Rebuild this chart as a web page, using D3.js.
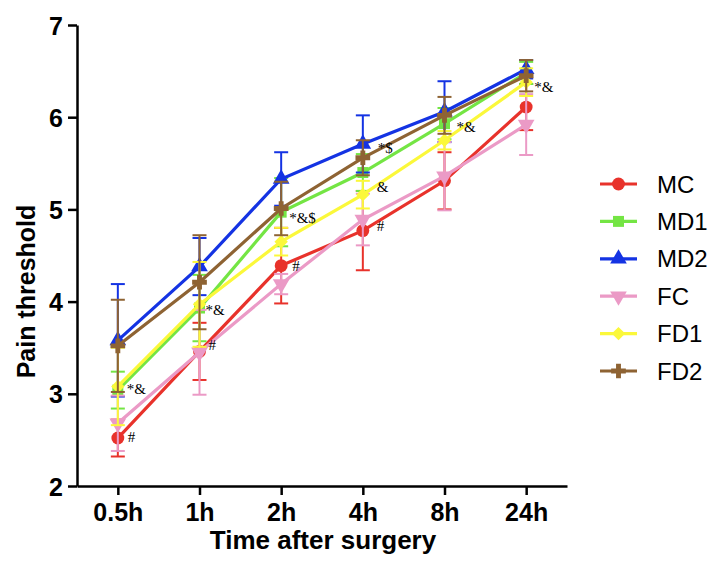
<!DOCTYPE html>
<html lang="en">
<head>
<meta charset="UTF-8">
<title>Pain threshold</title>
<script src="https://d3js.org/d3.v7.min.js"></script>
<style>
  body { margin: 0; background: #fff; }
  svg { display: block; }
</style>
</head>
<body>
<script>
// data
var times = ["0.5h", "1h", "2h", "4h", "8h", "24h"];
var yTicks = [2, 3, 4, 5, 6, 7];

var groups = ["MC", "MD1", "MD2", "FC", "FD1", "FD2"];
var colors = ["#e8322b", "#74e544", "#1433e3", "#eb9ac6", "#fbf83a", "#8e6333"];

var mc   = [2.52, 3.46, 4.39, 4.77, 5.31, 6.11];
var md1  = [3.04, 3.93, 4.97, 5.40, 5.93, 6.48];
var md2  = [3.58, 4.38, 5.33, 5.71, 6.06, 6.52];
var fc   = [2.68, 3.45, 4.19, 4.89, 5.36, 5.92];
var fd1  = [3.08, 3.97, 4.65, 5.16, 5.75, 6.38];
var fd2  = [3.52, 4.21, 5.01, 5.56, 6.02, 6.45];

var mcSd  = [0.20, 0.31, 0.41, 0.43, 0.31, 0.25];
var md1Sd = [0.20, 0.36, 0.37, 0.20, 0.17, 0.12];
var md2Sd = [0.61, 0.31, 0.29, 0.31, 0.33, 0.10];
var fcSd  = [0.30, 0.46, 0.11, 0.28, 0.37, 0.33];
var fd1Sd = [0.42, 0.46, 0.15, 0.15, 0.10, 0.15];
var fd2Sd = [0.50, 0.51, 0.29, 0.19, 0.20, 0.17];

// significance marks
var annoTime = ["0.5h", "0.5h", "1h", "1h", "2h", "2h", "4h", "4h", "4h", "8h", "24h"];
var annoVal  = [3.00, 2.48, 3.85, 3.48, 4.85, 4.33, 5.61, 5.19, 4.77, 5.84, 6.27];
var annoText = ["*&", "#", "*&", "#", "*&$", "#", "*$", "&", "#", "*&", "*&"];
var annoDx   = [9, 10, 6, 9, 8, 11, 15, 14, 14, 12, 8];

var width = 716, height = 572;
var plotLeft = 77, plotRight = 567, plotTop = 25, plotBottom = 486;

var series = groups.map(function(g, i) {
  var vals = [mc, md1, md2, fc, fd1, fd2][i];
  var sds = [mcSd, md1Sd, md2Sd, fcSd, fd1Sd, fd2Sd][i];
  return { name: g, color: colors[i], idx: i,
    points: vals.map(function(v, j) { return { t: times[j], v: v, sd: sds[j] }; }) };
});

var svg = d3.select("body").append("svg").attr("width", width).attr("height", height);

var x = d3.scalePoint().domain(times).range([plotLeft, plotRight]).padding(0.5);
var y = d3.scaleLinear().domain([2, 7]).range([plotBottom, plotTop]);

var font = "'Liberation Sans', Arial, Helvetica, sans-serif";

// marker shapes: circle, square, triangle, inverted triangle, diamond, cross
function symbolPath(i) {
  var shapes = [d3.symbolCircle, d3.symbolSquare, d3.symbolTriangle, d3.symbolTriangle, d3.symbolSquare, d3.symbolCross];
  var sizes = [130, 120, 120, 120, 90, 120];
  return d3.symbol().type(shapes[i]).size(sizes[i])();
}
function symbolRotate(i) {
  if (i === 3) return " rotate(180)";
  if (i === 4) return " rotate(45)";
  return "";
}

var line = d3.line().x(function(d) { return x(d.t); }).y(function(d) { return y(d.v); });

var plot = svg.append("g");

series.forEach(function(s) {
  var g = plot.append("g");
  // error bars
  var eb = g.selectAll(".eb").data(s.points).enter().append("g").attr("class", "eb")
    .attr("stroke", s.color).attr("stroke-width", 2);
  eb.append("line")
    .attr("x1", function(d) { return x(d.t); }).attr("x2", function(d) { return x(d.t); })
    .attr("y1", function(d) { return y(d.v + d.sd); }).attr("y2", function(d) { return y(d.v - d.sd); });
  eb.append("line")
    .attr("x1", function(d) { return x(d.t) - 7; }).attr("x2", function(d) { return x(d.t) + 7; })
    .attr("y1", function(d) { return y(d.v + d.sd); }).attr("y2", function(d) { return y(d.v + d.sd); });
  eb.append("line")
    .attr("x1", function(d) { return x(d.t) - 7; }).attr("x2", function(d) { return x(d.t) + 7; })
    .attr("y1", function(d) { return y(d.v - d.sd); }).attr("y2", function(d) { return y(d.v - d.sd); });
  // line
  g.append("path").datum(s.points)
    .attr("d", line).attr("fill", "none").attr("stroke", s.color).attr("stroke-width", 3.2);
  // markers
  g.selectAll(".mk").data(s.points).enter().append("path").attr("class", "mk")
    .attr("d", symbolPath(s.idx))
    .attr("transform", function(d) { return "translate(" + x(d.t) + "," + y(d.v) + ")" + symbolRotate(s.idx); })
    .attr("fill", s.color);
});

// annotations
svg.append("g").selectAll("text").data(annoText).enter().append("text")
  .attr("x", function(d, i) { return x(annoTime[i]) + annoDx[i]; })
  .attr("y", function(d, i) { return y(annoVal[i]); })
  .attr("font-family", "'Liberation Serif', 'Times New Roman', serif")
  .attr("font-size", 15)
  .attr("fill", "#000")
  .text(function(d) { return d; });

// axes
var axisX = svg.append("g")
  .attr("transform", "translate(0," + plotBottom + ")")
  .call(d3.axisBottom(x).tickSizeInner(9).tickSizeOuter(0).tickPadding(8));
var axisY = svg.append("g")
  .attr("transform", "translate(" + plotLeft + ",0)")
  .call(d3.axisLeft(y).tickValues(yTicks).tickFormat(d3.format("d")).tickSizeInner(9).tickSizeOuter(0).tickPadding(5));

[axisX, axisY].forEach(function(a) {
  a.select(".domain").attr("stroke", "#000").attr("stroke-width", 2.5);
  a.selectAll(".tick line").attr("stroke", "#000").attr("stroke-width", 2.5);
  a.selectAll(".tick text").attr("fill", "#000")
    .attr("font-family", font).attr("font-weight", "bold").attr("font-size", 25);
});
axisY.selectAll(".tick text").attr("dy", "0.36em");

svg.append("text")
  .attr("x", (plotLeft + plotRight) / 2 + 1).attr("y", 549)
  .attr("text-anchor", "middle")
  .attr("font-family", font).attr("font-weight", "bold").attr("font-size", 26)
  .text("Time after surgery");

svg.append("text")
  .attr("transform", "translate(35," + ((plotTop + plotBottom) / 2 + 36) + ") rotate(-90)")
  .attr("text-anchor", "middle")
  .attr("font-family", font).attr("font-weight", "bold").attr("font-size", 25)
  .text("Pain threshold");

// legend
var legend = svg.append("g").attr("transform", "translate(600,184)");
var item = legend.selectAll("g").data(series).enter().append("g")
  .attr("transform", function(d, i) { return "translate(0," + i * 37.4 + ")"; });
item.append("line").attr("x1", 0).attr("x2", 37).attr("y1", 0).attr("y2", 0)
  .attr("stroke", function(d) { return d.color; }).attr("stroke-width", 3.2);
item.append("path")
  .attr("d", function(d) { return symbolPath(d.idx); })
  .attr("transform", function(d) { return "translate(18.5,0)" + symbolRotate(d.idx); })
  .attr("fill", function(d) { return d.color; });
item.append("text").attr("x", 57).attr("y", 8.5)
  .attr("font-family", font).attr("font-size", 24).attr("fill", "#000")
  .text(function(d) { return d.name; });
</script>
</body>
</html>
